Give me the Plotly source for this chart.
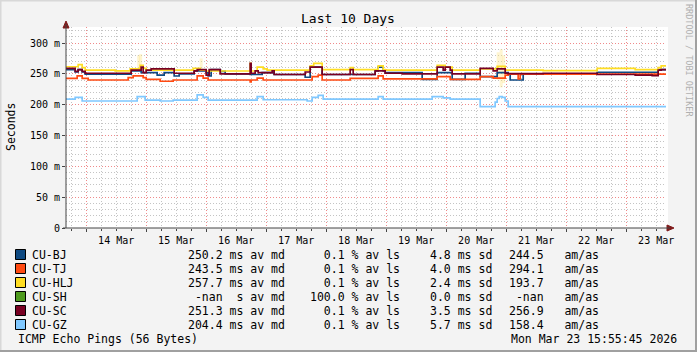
import plotly.graph_objects as go

# ---------------- data (ms) ----------------
START = "2026-03-13 15:55:45"
END = "2026-03-23 15:55:45"

bj_t = ["2026-03-13 15:56", "2026-03-13 19:36", "2026-03-13 20:48", "2026-03-13 22:24", "2026-03-13 23:36",
        "2026-03-14 18:00", "2026-03-14 22:00", "2026-03-15 04:24", "2026-03-15 07:12", "2026-03-15 11:12",
        "2026-03-15 13:12", "2026-03-15 19:12", "2026-03-16 00:00", "2026-03-16 00:48", "2026-03-16 02:00",
        "2026-03-16 05:36", "2026-03-16 07:36", "2026-03-16 17:36", "2026-03-16 22:24", "2026-03-17 03:12",
        "2026-03-17 15:36", "2026-03-17 17:36", "2026-03-17 22:24", "2026-03-18 19:36", "2026-03-18 20:48",
        "2026-03-18 22:48", "2026-03-18 23:36", "2026-03-19 14:24", "2026-03-19 20:24", "2026-03-20 02:24",
        "2026-03-20 07:36", "2026-03-20 13:36", "2026-03-20 20:24", "2026-03-21 00:48", "2026-03-21 01:36",
        "2026-03-21 06:48", "2026-03-22 12:24", "2026-03-23 12:48", "2026-03-23 15:55"]
bj_v = [257, 253, 257, 253, 249.5,
        255, 252, 248, 252, 246.5,
        250, 255, 252, 246.5, 257,
        254, 250, 249, 252, 249,
        244.5, 261, 249, 255, 261,
        255, 252, 241, 252, 241,
        251, 245.5, 252, 250, 240,
        250, 252.6, 257, 257]

tj_t = ["2026-03-13 15:56", "2026-03-13 20:24", "2026-03-13 22:24", "2026-03-14 00:48", "2026-03-14 16:48",
        "2026-03-14 18:48", "2026-03-14 22:48", "2026-03-15 00:00", "2026-03-15 05:36", "2026-03-15 10:48",
        "2026-03-15 20:24", "2026-03-15 22:48", "2026-03-16 00:48", "2026-03-16 17:36", "2026-03-16 18:00",
        "2026-03-16 20:24", "2026-03-16 22:48", "2026-03-17 18:24", "2026-03-17 20:48", "2026-03-17 22:24",
        "2026-03-18 09:36", "2026-03-18 20:48", "2026-03-18 22:48", "2026-03-19 20:24", "2026-03-20 01:36",
        "2026-03-20 13:36", "2026-03-20 18:48", "2026-03-20 23:36", "2026-03-21 00:48", "2026-03-21 04:48",
        "2026-03-21 05:36", "2026-03-23 15:55"]
tj_v = [242.7, 246.6, 242.7, 240, 243.8,
        246.6, 243.8, 241, 238, 240,
        246.6, 243, 240, 237, 240,
        243, 240, 245.5, 248, 240,
        242.7, 246.6, 242, 245.5, 241,
        245.5, 243, 248, 249.5, 242,
        249.5, 249.5]

hlj_t = ["2026-03-13 15:56", "2026-03-13 20:48", "2026-03-13 22:24", "2026-03-13 23:36", "2026-03-14 11:36",
         "2026-03-14 17:36", "2026-03-14 21:36", "2026-03-14 22:48", "2026-03-15 00:00", "2026-03-15 18:48",
         "2026-03-15 21:36", "2026-03-16 00:00", "2026-03-16 17:36", "2026-03-16 18:00", "2026-03-16 20:24",
         "2026-03-16 22:48", "2026-03-17 00:24", "2026-03-17 17:36", "2026-03-17 19:00", "2026-03-17 22:24",
         "2026-03-18 09:36", "2026-03-18 10:48", "2026-03-18 20:48", "2026-03-18 22:48", "2026-03-18 23:36",
         "2026-03-19 20:24", "2026-03-19 23:36", "2026-03-20 02:24", "2026-03-20 13:36", "2026-03-20 20:24",
         "2026-03-20 23:36", "2026-03-21 14:48", "2026-03-22 12:24", "2026-03-23 03:36", "2026-03-23 12:48",
         "2026-03-23 14:00", "2026-03-23 15:55"]
hlj_v = [261.5, 265, 260, 256, 254.7,
         258, 264, 259, 256, 259,
         256, 254.6, 267, 254.6, 261,
         258, 256, 263, 267, 257,
         260, 257, 263, 257, 256,
         264, 261, 256, 258, 262,
         256, 255.2, 259, 257, 260,
         263, 262]

sc_t = ["2026-03-13 15:56", "2026-03-13 19:36", "2026-03-13 20:48", "2026-03-13 22:24", "2026-03-13 23:36",
        "2026-03-14 18:00", "2026-03-14 22:00", "2026-03-14 22:48", "2026-03-15 00:00", "2026-03-15 02:00",
        "2026-03-15 11:12", "2026-03-15 19:12", "2026-03-15 20:24", "2026-03-16 00:00", "2026-03-16 01:12",
        "2026-03-16 05:36", "2026-03-16 17:36", "2026-03-16 18:00", "2026-03-16 19:36", "2026-03-16 20:48",
        "2026-03-17 02:24", "2026-03-17 03:12", "2026-03-17 15:36", "2026-03-17 17:36", "2026-03-17 22:24",
        "2026-03-18 09:36", "2026-03-18 10:48", "2026-03-18 19:36", "2026-03-18 23:36", "2026-03-19 06:24",
        "2026-03-19 20:24", "2026-03-19 22:48", "2026-03-19 23:36", "2026-03-20 01:36", "2026-03-20 02:24",
        "2026-03-20 13:36", "2026-03-20 18:48", "2026-03-20 20:24", "2026-03-20 23:36", "2026-03-21 00:48",
        "2026-03-21 14:48", "2026-03-22 12:24", "2026-03-23 03:36", "2026-03-23 10:24", "2026-03-23 12:48",
        "2026-03-23 14:00", "2026-03-23 15:55"]
sc_v = [259, 254, 257, 254, 251,
        256, 261, 252, 256, 258,
        251, 255, 257, 248, 257,
        250, 267, 251, 255, 252,
        255, 249, 253, 261, 249,
        257, 249, 255, 251, 250,
        261, 256, 261, 256, 250,
        259, 255, 258, 251, 250.5,
        251, 249, 248, 247, 256,
        257, 257]

gz_t = ["2026-03-13 15:56", "2026-03-13 19:36", "2026-03-13 22:24", "2026-03-14 20:24", "2026-03-14 23:36",
        "2026-03-15 05:36", "2026-03-15 10:48", "2026-03-15 20:24", "2026-03-15 22:48", "2026-03-16 00:48",
        "2026-03-16 20:24", "2026-03-16 22:48", "2026-03-17 16:24", "2026-03-17 18:24", "2026-03-17 20:48",
        "2026-03-17 22:48", "2026-03-18 20:48", "2026-03-18 22:48", "2026-03-19 18:24", "2026-03-19 22:48",
        "2026-03-20 01:36", "2026-03-20 13:36", "2026-03-20 19:36", "2026-03-20 20:24", "2026-03-20 21:12",
        "2026-03-20 22:24", "2026-03-20 23:36", "2026-03-21 00:48", "2026-03-23 15:55"]
gz_v = [209, 212, 206, 213, 207.5,
        206, 207.5, 216, 212, 207.5,
        213, 208, 206, 212, 215,
        209, 213, 209, 213, 211,
        209, 197, 204, 210, 213,
        212, 206, 197, 197]

# faint "smoke" of HLJ pings (low / high)
smoke_t = ["2026-03-14 21:00", "2026-03-14 21:48", "2026-03-15 22:00", "2026-03-20 20:48", "2026-03-20 22:00", "2026-03-20 23:00"]
smoke_lo = [258, 258, 256, 240, 228, 235]
smoke_hi = [280, 282, 275, 285, 290, 280]

names = ["CU-BJ", "CU-TJ", "CU-HLJ", "CU-SH", "CU-SC", "CU-GZ"]
colors = ["#0F4A82", "#FF4A12", "#FFDD22", "#4E9A1E", "#780022", "#80C8FF"]
avg_txt = ["250.2 ms", "243.5 ms", "257.7 ms", " -nan  s", "251.3 ms", "204.4 ms"]
loss_txt = ["  0.1", "  0.1", "  0.1", "100.0", "  0.1", "  0.1"]
sd_txt = ["4.8", "4.0", "2.4", "0.0", "3.5", "5.7"]
amas_txt = ["244.5", "294.1", "193.7", " -nan", "256.9", "158.4"]

y_ticks = [0, 50, 100, 150, 200, 250, 300]
y_ticktext = ["0", "50 m", "100 m", "150 m", "200 m", "250 m", "300 m"]

# ---------------- geometry helpers ----------------
FW, FH = 697, 352
L, R, T, B = 66, 666, 27, 228
PW, PH = R - L, B - T


def px(x):
    return (x - L) / PW


def py(y):
    return (B - y) / PH


FONT = "DejaVu Sans Mono"
fig = go.Figure()

# smoke
sx, sy = [], []
for t, lo, hi in zip(smoke_t, smoke_lo, smoke_hi):
    sx += [t, t, None]
    sy += [lo, hi, None]
fig.add_trace(go.Scatter(x=sx, y=sy, mode="lines", line=dict(color="rgba(255,225,120,0.35)", width=3),
                         hoverinfo="skip", showlegend=False))

series = [(bj_t, bj_v, colors[0]), (tj_t, tj_v, colors[1]), (hlj_t, hlj_v, colors[2]),
          (sc_t, sc_v, colors[4]), (gz_t, gz_v, colors[5])]
for t, v, c in series:
    fig.add_trace(go.Scatter(x=t, y=v, mode="lines", line=dict(color=c, width=1.7, shape="hv"),
                             showlegend=False))

shapes = []
# outer frame
shapes.append(dict(type="line", xref="paper", yref="paper", x0=px(0), x1=px(FW), y0=py(0.5), y1=py(0.5),
                   line=dict(color="#D8D8D8", width=2)))
shapes.append(dict(type="line", xref="paper", yref="paper", x0=px(0.5), x1=px(0.5), y0=py(0), y1=py(FH),
                   line=dict(color="#D8D8D8", width=2)))
shapes.append(dict(type="line", xref="paper", yref="paper", x0=px(0), x1=px(FW), y0=py(FH - 1), y1=py(FH - 1),
                   line=dict(color="#A0A0A0", width=2)))
shapes.append(dict(type="line", xref="paper", yref="paper", x0=px(FW - 1), x1=px(FW - 1), y0=py(0), y1=py(FH),
                   line=dict(color="#A0A0A0", width=2)))
# white extension of the canvas to the right
shapes.append(dict(type="rect", xref="paper", yref="paper", x0=1, x1=px(668), y0=0, y1=1,
                   fillcolor="white", line=dict(width=0), layer="below"))
# axis arrows
shapes.append(dict(type="path", xref="paper", yref="paper",
                   path=f"M {px(63)} {py(28)} L {px(69)} {py(28)} L {px(66)} {py(21)} Z",
                   fillcolor="#7F1A1A", line=dict(color="#7F1A1A", width=1)))
shapes.append(dict(type="path", xref="paper", yref="paper",
                   path=f"M {px(667)} {py(225)} L {px(667)} {py(231)} L {px(674)} {py(228)} Z",
                   fillcolor="#7F1A1A", line=dict(color="#7F1A1A", width=1)))
# axis lines
shapes.append(dict(type="line", xref="paper", yref="paper", x0=0, x1=0, y0=0, y1=py(24),
                   line=dict(color="#444444", width=1)))
shapes.append(dict(type="line", xref="paper", yref="paper", x0=px(63), x1=px(670), y0=0, y1=0,
                   line=dict(color="#444444", width=1)))

annotations = []
row_y = [254.5, 268.5, 282.5, 296.5, 310.5, 324.5]
for i, n in enumerate(names):
    yy = row_y[i]
    shapes.append(dict(type="rect", xref="paper", yref="paper", x0=px(15.5), x1=px(25.5),
                       y0=py(yy - 5), y1=py(yy + 5), fillcolor=colors[i], line=dict(color="black", width=1)))
    for xx, txt in [(30, n), (186, avg_txt[i] + " av md"), (307.5, loss_txt[i] + " % av ls"),
                    (428, sd_txt[i] + " ms sd"), (506.5, amas_txt[i] + "   am/as")]:
        annotations.append(dict(x=px(xx), y=py(yy), xref="paper", yref="paper", text=txt.replace(" ", "&nbsp;"),
                                showarrow=False, xanchor="left", yanchor="middle",
                                font=dict(family=FONT, size=11.5, color="black")))
annotations.append(dict(x=px(15.5), y=py(338.5), xref="paper", yref="paper", text="ICMP Echo Pings (56 Bytes)",
                        showarrow=False, xanchor="left", yanchor="middle",
                        font=dict(family=FONT, size=11.5, color="black")))
annotations.append(dict(x=px(679), y=py(338.5), xref="paper", yref="paper", text="Mon Mar 23 15:55:45 2026",
                        showarrow=False, xanchor="right", yanchor="middle",
                        font=dict(family=FONT, size=11.5, color="black")))
annotations.append(dict(x=px(348), y=py(19), xref="paper", yref="paper", text="Last 10 Days",
                        showarrow=False, xanchor="center", yanchor="middle",
                        font=dict(family=FONT, size=13, color="black")))
annotations.append(dict(x=px(11), y=py(127), xref="paper", yref="paper", text="Seconds", textangle=-90,
                        showarrow=False, xanchor="center", yanchor="middle",
                        font=dict(family=FONT, size=11.5, color="black")))
annotations.append(dict(x=px(689), y=py(60), xref="paper", yref="paper", text="RRDTOOL / TOBI OETIKER",
                        textangle=90, showarrow=False, xanchor="center", yanchor="middle",
                        font=dict(family=FONT, size=8.5, color="#B0B0B0")))

fig.update_layout(
    width=FW, height=FH,
    margin=dict(l=L, r=FW - R, t=T, b=FH - B, pad=0),
    paper_bgcolor="#F3F3F3", plot_bgcolor="white",
    shapes=shapes, annotations=annotations,
    showlegend=False,
    font=dict(family=FONT, size=10, color="black"),
    xaxis=dict(type="date", range=[START, END], dtick=86400000, tick0="2026-03-14",
               tickformat="%d %b", ticklabelmode="period",
               showgrid=True, gridcolor="#F08A8A", griddash="1px,2px", gridwidth=1,
               ticks="outside", ticklen=3, tickcolor="#444444",
               minor=dict(dtick=6 * 3600000, showgrid=True, gridcolor="#C4C4C4", griddash="1px,2px",
                          ticks="outside", ticklen=2, tickcolor="#444444"),
               showline=False, zeroline=False, fixedrange=True,
               tickfont=dict(family=FONT, size=10, color="black")),
    yaxis=dict(range=[0, 326], tickvals=y_ticks, ticktext=y_ticktext,
               showgrid=True, gridcolor="#F08A8A", griddash="1px,2px", gridwidth=1,
               ticks="outside", ticklen=3, tickcolor="#444444",
               minor=dict(dtick=10, showgrid=True, gridcolor="#C4C4C4", griddash="1px,2px"),
               showline=False, zeroline=False, fixedrange=True,
               tickfont=dict(family=FONT, size=10, color="black")),
)

fig.write_html("out.html")
